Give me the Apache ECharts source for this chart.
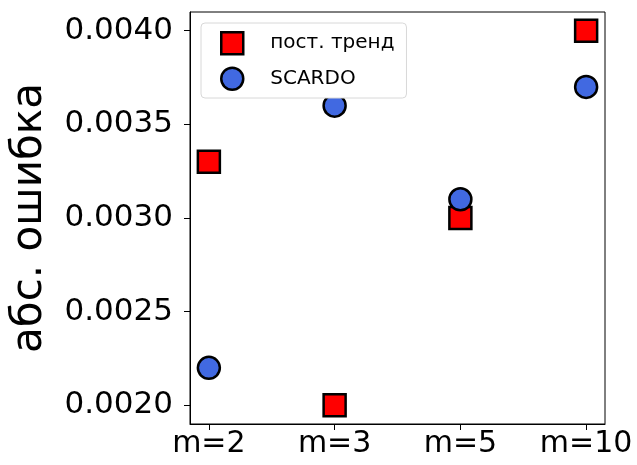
<!DOCTYPE html>
<html><head><meta charset="utf-8">
<script src="https://cdn.jsdelivr.net/npm/echarts@6/dist/echarts.min.js"></script>
<style>html,body{margin:0;padding:0;background:#fff}#c{width:637px;height:465px}</style>
</head><body><div id="c"></div>
<script>
var categories = ['m=2', 'm=3', 'm=5', 'm=10'];
var trendValues = [0.0033, 0.0020, 0.0030, 0.0040];
var scardoValues = [0.0022, 0.0036, 0.0031, 0.0037];
var yTicks = [0.0020, 0.0025, 0.0030, 0.0035, 0.0040];
var seriesNames = ['пост. тренд', 'SCARDO'];
var yTitle = 'абс. ошибка';

var FONT = 'DejaVu Sans';
var chart = echarts.init(document.getElementById('c'), null, {renderer: 'canvas'});
function pts(vals){ return vals.map(function(v,i){ return [i, v]; }); }
var trendStyle = {color: '#ff0000', borderColor: '#000', borderWidth: 2.5, opacity: 1};
var scardoStyle = {color: '#4169e1', borderColor: '#000', borderWidth: 2.5, opacity: 1};
chart.setOption({
  animation: false,
  grid: {left: 190, right: 32, top: 12, bottom: 41, outerBoundsMode: 'none', containLabel: false,
    show: true, borderColor: '#000', borderWidth: 1, backgroundColor: 'transparent'},
  xAxis: {
    type: 'value', min: -0.15, max: 3.15,
    axisLine: {show: true, onZero: false, lineStyle: {color: '#000', width: 1}},
    splitLine: {show: false},
    axisTick: {show: true, customValues: [0,1,2,3], length: 6, lineStyle: {color: '#000', width: 1}},
    axisLabel: {customValues: [0,1,2,3], color: '#000', fontFamily: FONT, fontSize: 30, margin: 5,
      formatter: function(v){ return categories[Math.round(v)]; }}
  },
  yAxis: {
    type: 'value', min: 0.0019, max: 0.0041,
    name: yTitle, nameLocation: 'middle', nameGap: 139, nameRotate: 90,
    nameTextStyle: {fontFamily: FONT, fontSize: 42, color: '#000'},
    axisLine: {show: true, onZero: false, lineStyle: {color: '#000', width: 1}},
    splitLine: {show: false},
    axisTick: {show: true, customValues: yTicks, length: 6, lineStyle: {color: '#000', width: 1}},
    axisLabel: {customValues: yTicks, color: '#000', fontFamily: FONT, fontSize: 31, margin: 17,
      formatter: function(v){ return v.toFixed(4); }}
  },
  legend: {
    orient: 'vertical', left: 201, top: 23,
    padding: [8, 12, 7, 19], itemGap: 11, itemWidth: 22, itemHeight: 22,
    backgroundColor: '#fff', borderColor: '#d8d8d8', borderWidth: 1, borderRadius: 4,
    textStyle: {fontFamily: FONT, fontSize: 20, color: '#000', padding: [0,0,4,22]},
    data: [
      {name: seriesNames[0], icon: 'rect', itemStyle: trendStyle},
      {name: seriesNames[1], icon: 'circle', itemStyle: scardoStyle}
    ]
  },
  series: [
    {name: seriesNames[0], type: 'scatter', symbol: 'rect', symbolSize: 22, data: pts(trendValues), itemStyle: trendStyle, z: 2},
    {name: seriesNames[1], type: 'scatter', symbol: 'circle', symbolSize: 22, data: pts(scardoValues), itemStyle: scardoStyle, z: 3}
  ]
});
</script></body></html>
